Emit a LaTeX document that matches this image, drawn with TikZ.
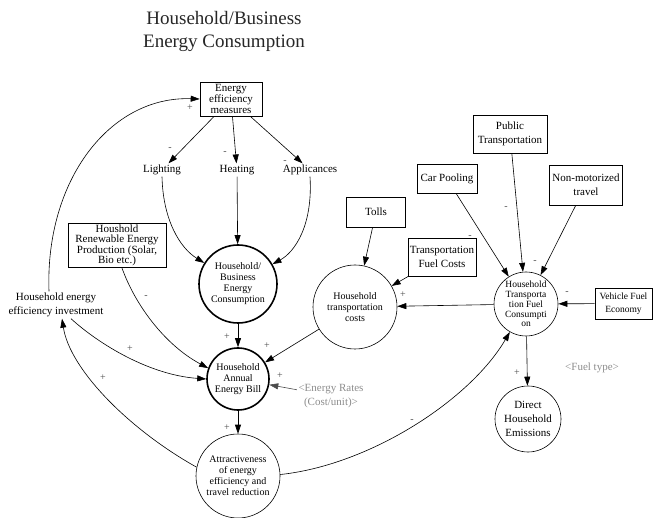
\documentclass[tikz,border=0pt]{standalone}
\usepackage{fontspec}
\setmainfont{Liberation Serif}
\usetikzlibrary{arrows.meta}
\newcommand\fsz[2]{\fontsize{#1}{#2}\selectfont}
\begin{document}
\begin{tikzpicture}[x=1pt,y=-1pt,
  box/.style={draw, rectangle, inner sep=0pt, align=center, font=\fsz{11}{11}, line width=0.6pt},
  txt/.style={inner sep=1.5pt, align=center, font=\fsz{11}{14}},
  grey/.style={inner sep=1.5pt, align=center, font=\fsz{11}{14}, text=black!45},
  circ/.style={draw, circle, inner sep=0pt, align=center, font=\fsz{10}{11}, line width=0.6pt},
  bold/.style={circ, line width=1.6pt},
  lbl/.style={inner sep=0pt, font=\fsz{10}{10}, text=black!70},
  edge/.style={-{Triangle[length=9pt,width=6pt]}, line width=0.6pt}]
\useasboundingbox (0,0) rectangle (653,518);

% heading
\node[font=\fsz{19}{23}, align=center, text=black!85] (title) at (224,31) {Household/Business\\Energy Consumption};

% boxes
\node[box, minimum width=62pt, minimum height=34pt] (eem) at (231,99) {Energy\\efficiency\\measures};
\node[box, minimum width=98pt, minimum height=44pt, font=\fsz{11}{10}] (renew) at (117,245) {Houshold\\Renewable Energy\\Production (Solar,\\Bio etc.)};
\node[box, minimum width=59pt, minimum height=30pt] (tolls) at (376,212) {Tolls};
\node[box, minimum width=68pt, minimum height=38pt, font=\fsz{11}{14}] (tfc) at (442,257) {Transportation\\Fuel Costs};
\node[box, minimum width=60pt, minimum height=29pt] (pool) at (447,179) {Car Pooling};
\node[box, minimum width=74pt, minimum height=38pt, font=\fsz{11}{14}] (pub) at (510,134) {Public\\Transportation};
\node[box, minimum width=73pt, minimum height=40pt, font=\fsz{11}{14}] (nonmot) at (586,185) {Non-motorized\\travel};
\node[box, minimum width=57pt, minimum height=31pt, font=\fsz{9.5}{13}] (vfe) at (623.5,303.5) {Vehicle Fuel\\Economy};

% plain texts
\node[txt] (light) at (162,170) {Lighting};
\node[txt] (heat) at (237,170) {Heating};
\node[txt] (appl) at (310,170) {Applicances};
\node[txt] (inv) at (56,305) {Household energy\\efficiency investment};
\node[grey] (rates) at (331,396) {<Energy Rates\\(Cost/unit)>};
\node[grey] (fuel) at (592,368) {<Fuel type>};

% circles
\node[bold, minimum size=78pt] (hb) at (238,284) {Household/\\Business\\Energy\\Consumption};
\node[bold, minimum size=62pt] (bill) at (238,379) {Household\\Annual\\Energy Bill};
\node[circ, minimum size=84pt] (attr) at (238,476) {Attractiveness\\of energy\\efficiency and\\travel reduction};
\node[circ, minimum size=84pt] (htc) at (355,307) {Household\\transportation\\costs};
\node[circ, minimum size=64pt, font=\fsz{9.5}{9.8}] (htfc) at (526,304) {Household\\Transporta\\tion Fuel\\Consumpti\\on};
\node[circ, minimum size=66pt, font=\fsz{11}{14}] (emis) at (528,419) {Direct\\Household\\Emissions};

% efficiency measures branch
\draw[edge] (eem) -- (light);
\draw[edge] (eem) -- (heat);
\draw[edge] (eem) -- (appl);
\draw[edge] (light.south) .. controls (163,220) and (180,248) .. (hb.148);
\draw[edge] (heat) -- (hb);
\draw[edge] (appl.south) .. controls (313,225) and (295,252) .. (hb.30);
\draw[edge] (hb) -- (bill);
\draw[edge] (renew.-78) .. controls (135,305) and (165,345) .. (bill.160);
\draw[edge] ([xshift=15pt]inv.south) .. controls (100,345) and (150,375) .. (bill.180);
\draw[edge] (htc) -- (bill);
\draw[edge, black!70] (rates) -- (bill);
\draw[edge] (bill) -- (attr);
\draw[edge] (attr.168) .. controls (130,430) and (70,370) .. ([xshift=6pt]inv.south);
\draw[edge] ([xshift=-7pt]inv.north) .. controls (45,180) and (110,96) .. (eem.west);
\draw[edge] (attr.2) .. controls (370,465) and (470,400) .. (htfc.-120);

% transportation branch
\draw[edge] (tolls) -- (htc);
\draw[edge] (tfc) -- (htc);
\draw[edge] (htfc) -- (htc);
\draw[edge] (pool) -- (htfc);
\draw[edge] (pub) -- (htfc);
\draw[edge] (nonmot) -- (htfc);
\draw[edge] (vfe) -- (htfc);
\draw[edge] (htfc) -- (emis);

% polarity marks
\node[lbl] (p1) at (190,108) {+};
\node[lbl] (m1) at (170,149) {-};
\node[lbl] (m2) at (225,153) {-};
\node[lbl] (m3) at (285,162) {-};
\node[lbl] (m4) at (146,297) {-};
\node[lbl] (p2) at (227,337) {+};
\node[lbl] (p3) at (130,349) {+};
\node[lbl] (p4) at (267,346) {+};
\node[lbl] (p5) at (280,376) {+};
\node[lbl] (p6) at (227,428) {+};
\node[lbl] (p7) at (103,378) {+};
\node[lbl] (m5) at (412,421) {-};
\node[lbl] (p8) at (403,295) {+};
\node[lbl] (m6) at (470,237) {-};
\node[lbl] (m7) at (506,208) {-};
\node[lbl] (m8) at (535,262) {-};
\node[lbl] (m9) at (567,293) {-};
\node[lbl] (p9) at (517,373) {+};
\end{tikzpicture}
\end{document}
